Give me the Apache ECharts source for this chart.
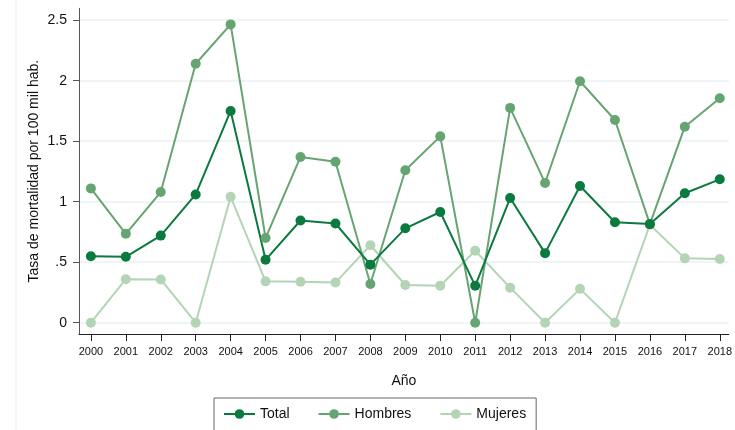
<!DOCTYPE html>
<html>
<head>
<meta charset="utf-8">
<script src="https://cdn.jsdelivr.net/npm/echarts@6/dist/echarts.min.js"></script>
<style>
html,body{margin:0;padding:0;background:#fff;}
#c{width:735px;height:430px;}
</style>
</head>
<body>
<div id="c"></div>
<script>
const years = [2000,2001,2002,2003,2004,2005,2006,2007,2008,2009,2010,2011,2012,2013,2014,2015,2016,2017,2018];
const total = [0.55,0.545,0.72,1.06,1.75,0.52,0.845,0.82,0.48,0.78,0.915,0.305,1.03,0.575,1.13,0.83,0.815,1.07,1.185];
const hombres = [1.11,0.735,1.08,2.14,2.465,0.70,1.37,1.33,0.32,1.26,1.54,0,1.775,1.155,1.995,1.675,0.815,1.62,1.855];
const mujeres = [0,0.36,0.358,0,1.04,0.342,0.338,0.332,0.64,0.312,0.305,0.595,0.29,0,0.28,0,0.81,0.532,0.527];
const yTicks = [0,0.5,1,1.5,2,2.5];
const yTickLabels = ['0','.5','1','1.5','2','2.5'];

const FONT = '"Liberation Sans", Arial, sans-serif';
const colors = {Total:'#0b7a3e', Hombres:'#66a572', Mujeres:'#b4d4b6'};

function pairs(arr){ return years.map((y,i)=>[y,arr[i]]); }
function mk(name, arr){
  return {
    name: name, type:'line', data: pairs(arr),
    symbol:'circle', symbolSize:10,
    lineStyle:{width:2, color:colors[name]},
    itemStyle:{color:colors[name]},
    emphasis:{disabled:true},
    animation:false
  };
}

const chart = echarts.init(document.getElementById('c'), null, {renderer:'canvas'});
chart.setOption({
  animation:false,
  textStyle:{fontFamily:FONT},
  grid:{left:79, right:0, top:8.3, bottom:96, containLabel:false},
  xAxis:{
    type:'value', min:1999.66, max:2018.26,
    name:'Año', nameLocation:'middle', nameGap:40,
    nameTextStyle:{fontSize:14, color:'#111', fontFamily:FONT},
    axisLine:{show:true, onZero:false, lineStyle:{color:'#222', width:1}},
    axisTick:{show:true, customValues:years, length:7, lineStyle:{color:'#222'}},
    axisLabel:{customValues:years, fontSize:11, color:'#111', margin:12, fontFamily:FONT,
      formatter:v=>String(Math.round(v))},
    splitLine:{show:false}
  },
  yAxis:{
    type:'value', min:-0.093, max:2.598,
    name:'Tasa de mortalidad por 100 mil hab.', nameLocation:'middle', nameGap:38,
    nameMoveOverlap:false,
    nameTextStyle:{fontSize:14, color:'#111', fontFamily:FONT},
    axisLine:{show:true, onZero:false, lineStyle:{color:'#555', width:1}},
    axisTick:{show:true, customValues:yTicks, length:6, lineStyle:{color:'#555'}},
    axisLabel:{customValues:yTicks, fontSize:14, color:'#111', margin:12, fontFamily:FONT,
      formatter:v=>{const i=yTicks.findIndex(t=>Math.abs(t-v)<1e-6);return i>=0?yTickLabels[i]:'';}},
    splitLine:{show:true, lineStyle:{color:'#eaf1f4', width:1.5}}
  },
  legend:{
    left:214, top:398,
    padding:[9,10,20,9],
    borderColor:'#666', borderWidth:1,
    itemWidth:31, itemHeight:12, itemGap:28,
    textStyle:{fontSize:14, color:'#111', fontFamily:FONT},
    data:['Total','Hombres','Mujeres']
  },
  graphic:[{type:'line', shape:{x1:16,y1:0,x2:16,y2:430}, style:{stroke:'#f0f0f0', lineWidth:1}, silent:true}],
  series:[mk('Mujeres',mujeres), mk('Hombres',hombres), mk('Total',total)]
});
</script>
</body>
</html>
